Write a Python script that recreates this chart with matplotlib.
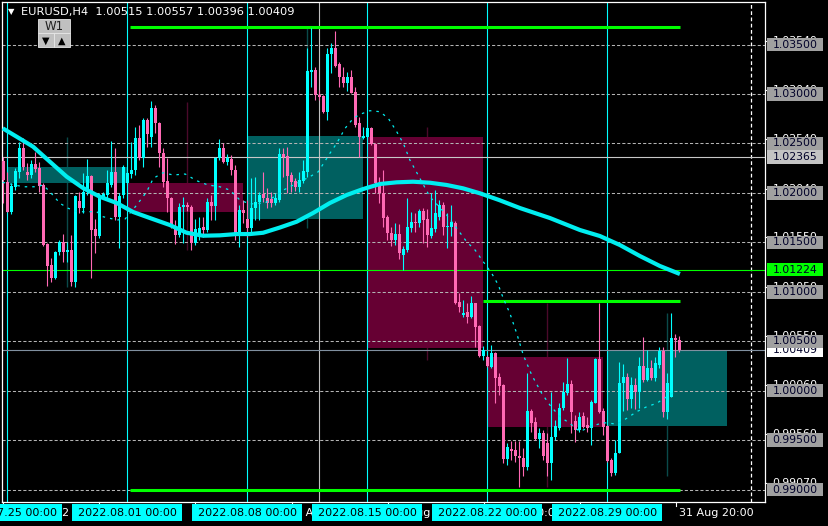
import numpy as np
import matplotlib
matplotlib.use("Agg")
import matplotlib.pyplot as plt
from matplotlib.patches import Rectangle
from matplotlib.transforms import blended_transform_factory as blend

# H4 candles, index 0 = Fri 22 Jul 20:00, week starts at 1, 31, 61, 91, 121, 151
opens = [
    1.02326, 1.02107, 1.01804, 1.02063, 1.02208, 1.02458, 1.02215, 1.02181, 1.02292, 1.02249,
    1.02080, 1.01484, 1.01271, 1.01137, 1.01399, 1.01507, 1.01406, 1.01423, 1.01103, 1.01918,
    1.01844, 1.02013, 1.02174, 1.01635, 1.01568, 1.01962, 1.01979, 1.02080, 1.02215, 1.01760,
    1.01979, 1.02097, 1.02191, 1.02232, 1.02559, 1.02350, 1.02737, 1.02569, 1.02855, 1.02704,
    1.02400, 1.02123, 1.01945, 1.01658, 1.01574, 1.01854, 1.01878, 1.01861, 1.01490, 1.01574,
    1.01658, 1.01625, 1.01911, 1.01867, 1.02356, 1.02457, 1.02316, 1.02343, 1.02231, 1.01591,
    1.01827, 1.01733, 1.01642, 1.01844, 1.01911, 1.01989, 1.01945, 1.01935, 1.01901, 1.01928,
    1.02393, 1.02373, 1.02181, 1.02124, 1.02063, 1.02124, 1.02215, 1.03226, 1.03243, 1.02990,
    1.02980, 1.02821, 1.03404, 1.03462, 1.03303, 1.03168, 1.03114, 1.03168, 1.03023, 1.02703,
    1.02552, 1.02562, 1.02653, 1.02494, 1.02097, 1.01996, 1.01760, 1.01591, 1.01524, 1.01584,
    1.01372, 1.01423, 1.01642, 1.01709, 1.01692, 1.01820, 1.01733, 1.01564, 1.01632, 1.01760,
    1.01878, 1.01652, 1.01659, 1.01699, 1.00900, 1.00766, 1.00799, 1.00749, 1.00890, 1.00654,
    1.00351, 1.00337, 1.00243, 1.00378, 1.00142, 1.00057, 0.99306, 0.99407, 0.99400, 0.99340,
    0.99316, 0.99225, 0.99798, 0.99687, 0.99508, 0.99569, 0.99468, 0.99272, 0.99528, 0.99619,
    0.99822, 0.99980, 1.00068, 0.99697, 0.99602, 0.99744, 0.99653, 0.99619, 0.99879, 1.00317,
    0.99798, 0.99643, 0.99299, 0.99164, 0.99373, 1.00074, 1.00135, 0.99919, 1.00057, 0.99990,
    1.00250, 1.00108, 1.00226, 1.00125, 1.00260, 1.00405, 0.99788, 0.99940, 1.00529, 1.00515,
]
highs = [
    1.02367, 1.02208, 1.02097, 1.02249, 1.02518, 1.02552, 1.02299, 1.02333, 1.02417, 1.02316,
    1.02097, 1.01490, 1.01339, 1.01413, 1.01524, 1.01581, 1.01507, 1.01575, 1.01979, 1.02006,
    1.02198, 1.02340, 1.02181, 1.01736, 1.01996, 1.02013, 1.02232, 1.02525, 1.02451, 1.01996,
    1.02282, 1.02215, 1.02518, 1.02670, 1.02687, 1.02754, 1.02754, 1.02929, 1.02889, 1.02720,
    1.02451, 1.02349, 1.01962, 1.01726, 1.01894, 1.01962, 1.01911, 1.01878, 1.01733, 1.01760,
    1.01760, 1.01945, 1.01979, 1.02366, 1.02541, 1.02508, 1.02393, 1.02383, 1.02282, 1.01878,
    1.01928, 1.01928, 1.02147, 1.02157, 1.02013, 1.02215, 1.02046, 1.02013, 1.01996, 1.02451,
    1.02451, 1.02467, 1.02215, 1.02147, 1.02215, 1.02333, 1.03462, 1.03664, 1.03276, 1.03040,
    1.02990, 1.03462, 1.03512, 1.03640, 1.03327, 1.03276, 1.03226, 1.03243, 1.03074, 1.02771,
    1.02670, 1.02670, 1.02670, 1.02508, 1.02164, 1.02232, 1.01777, 1.01659, 1.01692, 1.01686,
    1.01463, 1.01945, 1.01810, 1.01793, 1.01834, 1.01844, 1.01834, 1.02002, 1.02029, 1.01928,
    1.01911, 1.01793, 1.01878, 1.01719, 1.00991, 1.00917, 1.00890, 1.00958, 1.00890, 1.00665,
    1.00452, 1.00361, 1.00462, 1.00394, 1.00175, 1.00068, 0.99468, 0.99495, 0.99495, 0.99495,
    0.99417, 1.00175, 0.99811, 0.99737, 0.99619, 0.99602, 0.99569, 0.99990, 0.99704, 0.99872,
    1.00091, 1.00327, 1.00108, 0.99754, 0.99788, 0.99788, 0.99737, 0.99906, 1.00327, 1.00890,
    0.99822, 0.99653, 0.99316, 0.99501, 1.00293, 1.00270, 1.00175, 1.00142, 1.00125, 1.00344,
    1.00546, 1.00411, 1.00310, 1.00337, 1.00445, 1.00445, 1.00175, 1.00789, 1.00573, 1.00557,
]
lows = [
    1.01895, 1.01804, 1.01784, 1.02030, 1.02148, 1.02232, 1.02131, 1.02148, 1.02215, 1.02013,
    1.01467, 1.01062, 1.01103, 1.01130, 1.01372, 1.01305, 1.01305, 1.01062, 1.01052, 1.01794,
    1.01794, 1.01979, 1.01137, 1.01389, 1.01548, 1.01945, 1.01952, 1.02063, 1.01726, 1.01447,
    1.01945, 1.02080, 1.02148, 1.02181, 1.02333, 1.02265, 1.02468, 1.02468, 1.02602, 1.02265,
    1.02063, 1.01810, 1.01642, 1.01483, 1.01557, 1.01490, 1.01820, 1.01423, 1.01473, 1.01524,
    1.01557, 1.01608, 1.01726, 1.01726, 1.02333, 1.02299, 1.02282, 1.02181, 1.01524, 1.01456,
    1.01692, 1.01557, 1.01591, 1.01726, 1.01726, 1.01911, 1.01844, 1.01861, 1.01878, 1.01911,
    1.02164, 1.02000, 1.02012, 1.02023, 1.02012, 1.02097, 1.02164, 1.03074, 1.02939, 1.02939,
    1.02804, 1.02737, 1.03209, 1.03276, 1.03074, 1.03074, 1.03034, 1.03007, 1.02670, 1.02366,
    1.02542, 1.02542, 1.02484, 1.01996, 1.01895, 1.01659, 1.01524, 1.01463, 1.01473, 1.01328,
    1.01221, 1.01406, 1.01608, 1.01608, 1.01659, 1.01490, 1.01456, 1.01541, 1.01608, 1.01726,
    1.01574, 1.01440, 1.01564, 1.00877, 1.00799, 1.00742, 1.00688, 1.00732, 1.00445, 1.00344,
    1.00311, 1.00236, 1.00226, 0.99879, 0.99956, 0.99272, 0.99249, 0.99299, 0.99282, 0.99030,
    0.99137, 0.99198, 0.99586, 0.99501, 0.99417, 0.99299, 0.99137, 0.99097, 0.99501, 0.99602,
    0.99805, 0.99956, 0.99569, 0.99485, 0.99586, 0.99619, 0.99586, 0.99451, 0.99872, 0.99771,
    0.99552, 0.99282, 0.99137, 0.99148, 0.99367, 0.99798, 0.99805, 0.99822, 0.99811, 0.99822,
    1.00091, 1.00101, 1.00108, 1.00101, 1.00226, 0.99737, 0.99710, 0.99933, 1.00344, 1.00396,
]
closes = [
    1.02131, 1.01810, 1.02073, 1.02222, 1.02458, 1.02265, 1.02181, 1.02292, 1.02242, 1.02073,
    1.01473, 1.01265, 1.01137, 1.01399, 1.01507, 1.01406, 1.01423, 1.01103, 1.01969, 1.01844,
    1.02013, 1.02174, 1.01625, 1.01568, 1.01962, 1.01986, 1.02097, 1.02215, 1.01760, 1.01972,
    1.02259, 1.02198, 1.02232, 1.02559, 1.02350, 1.02737, 1.02596, 1.02855, 1.02704, 1.02400,
    1.02107, 1.01945, 1.01658, 1.01574, 1.01861, 1.01878, 1.01854, 1.01490, 1.01632, 1.01642,
    1.01625, 1.01911, 1.01867, 1.02356, 1.02457, 1.02316, 1.02349, 1.02231, 1.01591, 1.01827,
    1.01793, 1.01642, 1.01844, 1.01911, 1.01979, 1.01945, 1.01901, 1.01894, 1.01945, 1.02393,
    1.02366, 1.02171, 1.02114, 1.02063, 1.02130, 1.02225, 1.03236, 1.03243, 1.02990, 1.02973,
    1.02821, 1.03404, 1.03462, 1.03283, 1.03168, 1.03114, 1.03168, 1.03013, 1.02686, 1.02562,
    1.02575, 1.02653, 1.02494, 1.02097, 1.02002, 1.01743, 1.01591, 1.01524, 1.01584, 1.01389,
    1.01429, 1.01659, 1.01709, 1.01692, 1.01820, 1.01726, 1.01574, 1.01642, 1.01793, 1.01878,
    1.01659, 1.01665, 1.01709, 1.00884, 1.00850, 1.00789, 1.00749, 1.00890, 1.00648, 1.00351,
    1.00412, 1.00250, 1.00378, 1.00125, 1.00047, 0.99306, 0.99427, 0.99394, 0.99340, 0.99316,
    0.99225, 0.99798, 0.99677, 0.99508, 0.99569, 0.99340, 0.99272, 0.99535, 0.99643, 0.99822,
    0.99990, 1.00068, 0.99788, 0.99602, 0.99737, 0.99636, 0.99619, 0.99889, 1.00317, 0.99788,
    0.99629, 0.99292, 0.99164, 0.99373, 1.00074, 1.00135, 0.99912, 1.00057, 0.99990, 1.00250,
    1.00108, 1.00226, 1.00125, 1.00276, 1.00405, 0.99788, 1.00074, 1.00529, 1.00512, 1.00409,
]

# slow MA (thick) and fast MA (dotted)
ma_slow_x = [-0.2, 3.3, 7.4, 11.6, 15.8, 19.9, 24.1, 28.3, 32.4, 36.6, 41.6, 45.8, 49.9,
             54.1, 58.3, 61.6, 64.9, 69.1, 73.3, 77.4, 81.6, 85.8, 89.9, 94.1, 98.3, 102.4,
             106.6, 110.8, 114.9, 119.1, 123.9, 129.1, 136.6, 144.1, 149.1, 154.1, 159.1,
             164.1, 169.1]
ma_slow_y = [1.02653, 1.02568, 1.02467, 1.02315, 1.02164, 1.02049, 1.01961, 1.01898, 1.01807,
             1.01746, 1.01675, 1.01597, 1.01567, 1.01571, 1.01584, 1.01584, 1.01597, 1.01650,
             1.01709, 1.01797, 1.01898, 1.01979, 1.02039, 1.02090, 1.02107, 1.02113, 1.02103,
             1.02080, 1.02046, 1.01996, 1.01928, 1.01847, 1.01746, 1.01625, 1.01564, 1.01473,
             1.01362, 1.01261, 1.01180]
ma_fast_x = [-0.2, 4.9, 8.1, 9.9, 11.6, 14.1, 16.2, 18.4, 23.3, 24.9, 28.4, 30.4, 33.3,
             35.8, 37.45, 39.9, 42.4, 45.4, 48.3, 51.1, 54.1, 56.6, 59.1, 61.6, 65.4, 70.0,
             73.3, 76.6, 78.7, 81.6, 83.3, 85.4, 87.45, 89.1, 91.6, 94.1, 96.2, 98.3, 99.95,
             101.6, 104.1, 106.6, 110.8, 113.3, 115.8, 117.9, 119.95, 122.05, 123.7, 124.95,
             126.6, 128.3, 129.95, 132.05, 134.55, 136.6, 139.1, 141.6, 144.1, 146.6, 149.95,
             153.3, 155.8, 158.3, 160.8, 163.3, 165.8, 168.3]
ma_fast_y = [1.02107, 1.02062, 1.02062, 1.02080, 1.02012, 1.01895, 1.01844, 1.01810, 1.01810,
             1.01759, 1.01726, 1.01736, 1.01877, 1.02012, 1.02147, 1.02204, 1.02181, 1.02191,
             1.02123, 1.02080, 1.02062, 1.02029, 1.01928, 1.01888, 1.01898, 1.02029, 1.02097,
             1.02164, 1.02214, 1.02400, 1.02501, 1.02653, 1.02754, 1.02794, 1.02831, 1.02821,
             1.02754, 1.02619, 1.02501, 1.02332, 1.02147, 1.01961, 1.01776, 1.01642, 1.01506,
             1.01422, 1.01304, 1.01187, 1.01069, 1.00934, 1.00782, 1.00580, 1.00361, 1.00159,
             0.99974, 0.99855, 0.99737, 0.99670, 0.99586, 0.99636, 0.99677, 0.99663, 0.99721,
             0.99788, 0.99838, 0.99873, 0.99939, 1.00000]

# weekly candles (W1 overlay)
week_start = [0.9, 30.9, 60.9, 90.9, 120.9, 150.9]
week_end = [31.1, 59.9, 89.9, 119.9, 149.9, 180.9]
week_mid = [15.9, 45.9, 75.9, 105.9, 135.9, 165.9]
week_open = [1.02100, 1.02100, 1.01736, 1.02565, 1.00341, 0.99643]
week_close = [1.02262, 1.01807, 1.02575, 1.00432, 0.99633, 1.00412]
week_high = [1.02565, 1.02919, 1.03664, 1.02670, 1.00890, 1.00789]
week_low = [1.01052, 1.01423, 1.01650, 1.00311, 0.99030, 0.99137]
week_labels = ["2022.07.25 00:00", "2022.08.01 00:00", "2022.08.08 00:00",
               "2022.08.15 00:00", "2022.08.22 00:00", "2022.08.29 00:00"]

# green level segments
level_price = [1.03677, 1.00907, 0.99001]
level_from = [31.6, 120.0, 31.6]
level_to = [169.1, 169.1, 169.1]

grid_prices = [1.035, 1.030, 1.025, 1.020, 1.015, 1.010, 1.005, 1.000, 0.995, 0.990]
scale_prices = [1.03540, 1.03040, 1.02540, 1.02040, 1.01550, 1.01050, 1.00550, 1.00060,
                0.99560, 0.99070]
time_ticks = [-0.1, 23.9, 48.0, 72.1, 96.1, 120.1, 144.1, 168.1]
time_texts = ["22 Jul 2022", "28 Jul 12:00", "3 Aug 20:00", "9 Aug 20:00",
              "15 Aug 20:00", "19 Aug 20:00", "25 Aug 12:00", "31 Aug 20:00"]

W, H = 829, 526
UP, DOWN = "#00ffff", "#ff69b4"

fig = plt.figure(figsize=(W / 100, H / 100), dpi=100, facecolor="black")
ax = fig.add_axes([2 / W, 24 / H, 763 / W, 500 / H])
ax.set_facecolor("black")
ax.set_xlim(-0.375, 190.375)
ax.set_ylim(0.98875, 1.03930)
ax.set_xticks([])
ax.set_yticks([])
for s in ax.spines.values():
    s.set_color("white")
    s.set_linewidth(0.9)

# weekly wicks + bodies in the background
for i in range(len(week_open)):
    bull = week_close[i] >= week_open[i]
    ax.vlines(week_mid[i], week_low[i], week_high[i],
              colors="#0a4a4a" if bull else "#4a0a2a", lw=1.0, zorder=1)
    lo, hi = sorted((week_open[i], week_close[i]))
    ax.add_patch(Rectangle((week_start[i], lo), week_end[i] - week_start[i], hi - lo,
                           facecolor="#006060" if bull else "#660033",
                           edgecolor="none", zorder=1.5))

# grid
for p in grid_prices:
    ax.axhline(p, color="#b4b4b4", lw=0.75, ls=(0, (3, 2)), zorder=2)

# week separators and other lines
for k in week_start:
    ax.axvline(k, color="#00ffff", lw=0.8, zorder=2.2)
ax.axvline(78.9, color="#c0c0c0", lw=0.8, zorder=2.2)
ax.axvline(186.9, color="white", lw=0.9, ls=(0, (3, 2)), zorder=2.2)
ax.axhline(1.02365, color="#c8c8c8", lw=0.8, zorder=2.3)
ax.axhline(1.01224, color="#00ff00", lw=0.8, zorder=2.3)
ax.axhline(1.00409, color="#8090a0", lw=0.8, zorder=2.3)
ax.hlines(level_price, level_from, level_to, colors="#00ff00", lw=2.2, zorder=2.4)

# candles
idx = np.arange(len(opens))
o, h, l, c = (np.array(v) for v in (opens, highs, lows, closes))
cols = np.where(c >= o, UP, DOWN)
ax.vlines(idx, l, h, colors=cols, lw=0.8, zorder=4)
body = np.maximum(np.abs(c - o), 0.00003)
ax.bar(idx, body, bottom=np.minimum(o, c), width=0.78, color=cols, linewidth=0, zorder=5)

# moving averages
ax.plot(ma_slow_x, ma_slow_y, color="#00eef0", lw=3.0, solid_capstyle="butt", zorder=6)
ax.plot(ma_fast_x, ma_fast_y, color="#00eef0", lw=0.9, ls=(0, (2, 4)), zorder=6)

# overlay in pixel coordinates for labels and buttons
ov = fig.add_axes([0, 0, 1, 1], zorder=10)
ov.set_xlim(0, W)
ov.set_ylim(H, 0)
ov.axis("off")
ov.patch.set_alpha(0)

ty = blend(ov.transData, ax.transData)   # x in pixels, y in price
tx = blend(ax.transData, ov.transData)   # x in candles, y in pixels

# price scale: MT4 labels under the indicator labels
for p in scale_prices:
    ov.text(795, p, f"{p:.5f}", transform=ty, ha="center", va="center",
            color="white", fontsize=7.8, zorder=3)
    ov.plot([765, 769], [p, p], transform=ty, color="white", lw=0.8, zorder=3)


def price_tag(p, face, z):
    ov.add_patch(Rectangle((767, p - 0.00068), 56, 0.00136, transform=ty,
                           facecolor=face, edgecolor="none", zorder=z))
    ov.text(795, p, f"{p:.5f}", transform=ty, ha="center", va="center",
            color="#000028", fontsize=7.8, zorder=z + 0.1)


price_tag(1.00409, "white", 4)
for p in grid_prices:
    price_tag(p, "#a0a0a0", 5)
price_tag(1.02365, "#c4c4c4", 6)
price_tag(1.01224, "#00ff00", 6)

# time scale
for k, t in zip(time_ticks, time_texts):
    ov.plot([k, k], [502, 506], transform=tx, color="white", lw=0.8, zorder=3)
    ov.text(k + 0.8, 513, t, transform=tx, ha="left", va="center",
            color="white", fontsize=8, zorder=3)
for k, t in zip(week_start, week_labels):
    ov.add_patch(Rectangle((k - 13.75, 504), 27.5, 17, transform=tx,
                           facecolor="#00ffff", edgecolor="none", zorder=5))
    ov.text(k, 513, t, transform=tx, ha="center", va="center",
            color="black", fontsize=8, zorder=6)

# header text
ov.text(8, 12, "\u25bc", color="white", fontsize=6, ha="left", va="center")
ov.text(21, 12, "EURUSD,H4  1.00515 1.00557 1.00396 1.00409", color="white",
        fontsize=8.2, ha="left", va="center")

# W1 buttons
ov.add_patch(Rectangle((38, 19), 32, 14, facecolor="#c0c0c0", edgecolor="#e8e8e8", lw=0.6))
ov.text(54, 26.5, "W1", color="#202020", fontsize=8.5, ha="center", va="center")
ov.add_patch(Rectangle((38, 33), 16, 14, facecolor="#c0c0c0", edgecolor="#e8e8e8", lw=0.6))
ov.add_patch(Rectangle((54, 33), 16, 14, facecolor="#c0c0c0", edgecolor="#e8e8e8", lw=0.6))
ov.text(46, 40.5, "\u25bc", color="black", fontsize=7, ha="center", va="center")
ov.text(62, 40.5, "\u25b2", color="black", fontsize=7, ha="center", va="center")

fig.savefig("out.png", dpi=100, facecolor="black")
